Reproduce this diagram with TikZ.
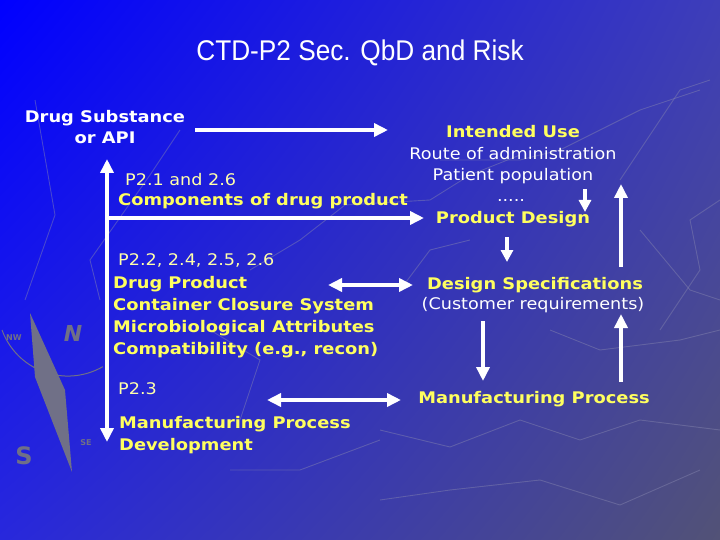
\documentclass[tikz,border=0pt]{standalone}
\usepackage{fontspec}
\usepackage{graphicx}
\setmainfont{DejaVu Sans}
\newfontfamily\myNormFam{DejaVu Sans}[FakeStretch=1.1]
\newfontfamily\myBoldFam{DejaVu Sans}[FakeStretch=1.115]
\newfontfamily\myTitleFam{Liberation Sans}
\usetikzlibrary{arrows.meta,shadings}
\definecolor{bgUL}{RGB}{0,0,255}
\definecolor{bgUR}{RGB}{62,62,185}
\definecolor{bgLL}{RGB}{40,40,220}
\definecolor{bgLR}{RGB}{82,82,118}
\definecolor{yel}{RGB}{255,255,95}
\definecolor{paley}{RGB}{255,255,170}
\definecolor{contour}{RGB}{135,135,175}
\definecolor{needle}{RGB}{112,112,135}
\newcommand\myNorm{\myNormFam\fontsize{16}{20}\selectfont}
\newcommand\myBold{\myBoldFam\fontsize{16}{20}\selectfont\bfseries}
\begin{document}
\begin{tikzpicture}[x=1pt,y=-1pt,
  arr/.style={draw=white, line width=4.5pt, -{Triangle[length=14pt,width=13pt]}},
  darr/.style={draw=white, line width=4.5pt, {Triangle[length=14pt,width=13pt]}-{Triangle[length=14pt,width=13pt]}},
  sarr/.style={draw=white, line width=4pt, -{Triangle[length=12pt,width=12pt]}},
  yb/.style={text=yel, font=\myBold, inner sep=0pt},
  wb/.style={text=white, font=\myBold, inner sep=0pt},
  wn/.style={text=white, font=\myNorm, inner sep=0pt},
  pn/.style={text=paley, font=\myNorm, inner sep=0pt},
  cline/.style={draw=contour, line width=0.9pt, opacity=0.45, line join=miter},
]
\useasboundingbox (0,0) rectangle (720,540);
\shade[upper left=bgUL, upper right=bgUR, lower left=bgLL, lower right=bgLR] (0,0) rectangle (720,540);

% faint background contour lines
\draw[cline] (35,100) -- (55,215) -- (25,300);
\draw[cline] (180,130) -- (150,175) -- (90,260) -- (100,300);
\draw[cline] (250,270) -- (300,240) -- (345,205) -- (430,200) -- (470,175) -- (520,155);
\draw[cline] (440,160) -- (520,160) -- (560,150) -- (640,110) -- (700,90);
\draw[cline] (620,180) -- (660,120) -- (680,90) -- (710,80);
\draw[cline] (640,230) -- (690,290) -- (720,300);
\draw[cline] (380,430) -- (450,447) -- (520,420) -- (580,440) -- (640,420) -- (720,430);
\draw[cline] (380,500) -- (450,490) -- (540,480) -- (620,505) -- (700,470);
\draw[cline] (550,330) -- (600,350) -- (680,340) -- (720,330);
\draw[cline] (230,470) -- (300,470) -- (380,440);
\draw[cline] (400,290) -- (430,250) -- (470,240);
\draw[cline] (660,330) -- (700,270) -- (690,220) -- (720,200);
\draw[cline] (210,330) -- (260,360) -- (240,420);

% compass
\fill[needle] (30,313) -- (65,390) -- (72,472) -- (35,377) -- cycle;
\draw[needle, line width=1pt] (2,330) arc[start angle=160, end angle=60, radius=70];
\node[text=needle, font=\bfseries\itshape\fontsize{22}{22}\selectfont, inner sep=0pt] (cN) at (73,333) {N};
\node[text=needle, font=\bfseries\fontsize{24}{24}\selectfont, inner sep=0pt] (cS) at (24,456) {S};
\node[text=needle, font=\bfseries\fontsize{8}{8}\selectfont, inner sep=0pt] (cNW) at (14,338) {NW};
\node[text=needle, font=\bfseries\fontsize{8}{8}\selectfont, inner sep=0pt] (cSE) at (86,443) {SE};

% title
\node[text=white, inner sep=0pt, anchor=base] (title) at (360,61)
  {\scalebox{0.92}[1]{\myTitleFam\fontsize{28.5}{30}\selectfont CTD-P2 Sec. QbD and Risk}};

% left column
\node[wb, anchor=base] (ds1) at (105,123) {Drug Substance};
\node[wb, anchor=base] (ds2) at (105,144) {or API};
\node[pn, anchor=base west] (p21) at (125,186) {P2.1 and 2.6};
\node[yb, anchor=base west] (comp) at (118,206) {Components of drug product};
\node[pn, anchor=base west] (p22) at (118,265) {P2.2, 2.4, 2.5, 2.6};
\node[yb, anchor=base west] (dp) at (113,288) {Drug Product};
\node[yb, anchor=base west] (ccs) at (113,310) {Container Closure System};
\node[yb, anchor=base west] (mba) at (113,332) {Microbiological Attributes};
\node[yb, anchor=base west] (cmp) at (113,354) {Compatibility (e.g., recon)};
\node[pn, anchor=base west] (p23) at (118,394) {P2.3};
\node[yb, anchor=base west] (mpd1) at (119,428) {Manufacturing Process};
\node[yb, anchor=base west] (mpd2) at (119,450) {Development};

% right column
\node[yb, anchor=base] (iu) at (513,138) {Intended Use};
\node[wn, anchor=base] (roa) at (513,160) {Route of administration};
\node[wn, anchor=base] (pp) at (513,181) {Patient population};
\node[wn, anchor=base] (dots) at (511,202) {.....};
\node[yb, anchor=base] (pd) at (513,224) {Product Design};
\node[yb, anchor=base] (dsp) at (535,289) {Design Specifications};
\node[wn, anchor=base] (cr) at (533,309) {(Customer requirements)};
\node[yb, anchor=base] (mp) at (534,403) {Manufacturing Process};

% arrow end points
\coordinate (a1s) at (195,130); \coordinate (a1e) at (388,130);
\coordinate (vt) at (107,159);  \coordinate (vb) at (107,442);
\coordinate (h3s) at (105,218); \coordinate (h3e) at (424,218);
\coordinate (a4s) at (585,189); \coordinate (a4e) at (585,212);
\coordinate (a5s) at (621,267); \coordinate (a5e) at (621,184);
\coordinate (a6s) at (507,237); \coordinate (a6e) at (507,262);
\coordinate (d7l) at (328,285); \coordinate (d7r) at (413,285);
\coordinate (a8s) at (483,321); \coordinate (a8e) at (483,381);
\coordinate (a9s) at (621,382); \coordinate (a9e) at (621,314);
\coordinate (d10l) at (267,400); \coordinate (d10r) at (401,400);

\draw[arr] (a1s) -- (a1e);
\draw[darr] (vt) -- (vb);
\draw[arr] (h3s) -- (h3e);
\draw[sarr] (a4s) -- (a4e);
\draw[arr] (a5s) -- (a5e);
\draw[sarr] (a6s) -- (a6e);
\draw[darr] (d7l) -- (d7r);
\draw[arr] (a8s) -- (a8e);
\draw[arr] (a9s) -- (a9e);
\draw[darr] (d10l) -- (d10r);
\end{tikzpicture}
\end{document}
